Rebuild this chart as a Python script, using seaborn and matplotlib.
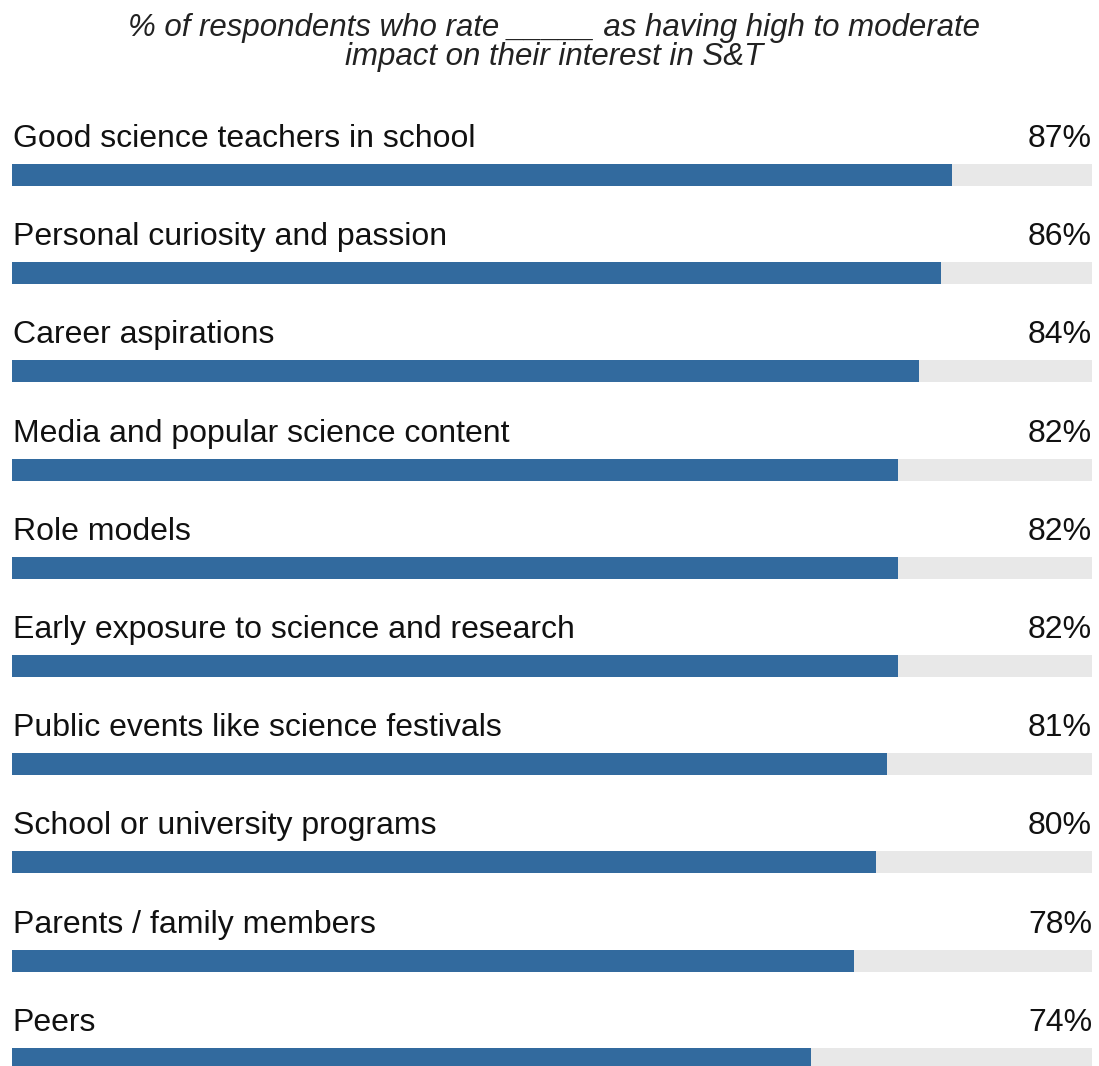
import matplotlib
matplotlib.use("Agg")
import matplotlib.pyplot as plt
import seaborn as sns
import pandas as pd

categories = [
    "Good science teachers in school",
    "Personal curiosity and passion",
    "Career aspirations",
    "Media and popular science content",
    "Role models",
    "Early exposure to science and research",
    "Public events like science festivals",
    "School or university programs",
    "Parents / family members",
    "Peers",
]
values = [87, 86, 84, 82, 82, 82, 81, 80, 78, 74]
title_lines = [
    "% of respondents who rate _____ as having high to moderate",
    "impact on their interest in S&T",
]

sns.set_theme(style="white")
plt.rcParams["font.family"] = ["Liberation Sans", "DejaVu Sans"]

df = pd.DataFrame({"factor": categories, "share": values, "full": [100] * len(values)})

W, H = 1099, 1066
fig = plt.figure(figsize=(W / 100, H / 100), dpi=100)

row_px = 98.2
first_center = 175
ax_top_px = 100
ax_bottom_px = H
y_top = -(first_center - ax_top_px) / row_px
y_bottom = (ax_bottom_px - first_center) / row_px
ax = fig.add_axes([12 / W, 0, (1092 - 12) / W, (ax_bottom_px - ax_top_px) / H])

bar_h = 22 / row_px
sns.barplot(data=df, x="full", y="factor", orient="h", color="#e8e8e8",
            width=bar_h, saturation=1, linewidth=0, ax=ax)
sns.barplot(data=df, x="share", y="factor", orient="h", color="#326a9e",
            width=bar_h, saturation=1, linewidth=0, ax=ax)

ax.set_xlim(0, 100)
ax.set_ylim(y_bottom, y_top)
ax.axis("off")

# label baseline sits a fixed distance above each bar's centre
label_offset = 28 / row_px
for i, (cat, v) in enumerate(zip(categories, values)):
    ax.text(0.05, i - label_offset, cat, ha="left", va="baseline",
            fontsize=23, color="#111111")
    ax.text(100, i - label_offset, f"{v}%", ha="right", va="baseline",
            fontsize=23, color="#111111")

for baseline_px, line in zip([36, 65], title_lines):
    fig.text(554 / W, 1 - baseline_px / H, line, ha="center", va="baseline",
             style="italic", fontsize=22.5, color="#222222")

fig.savefig("out.png", dpi=100)
